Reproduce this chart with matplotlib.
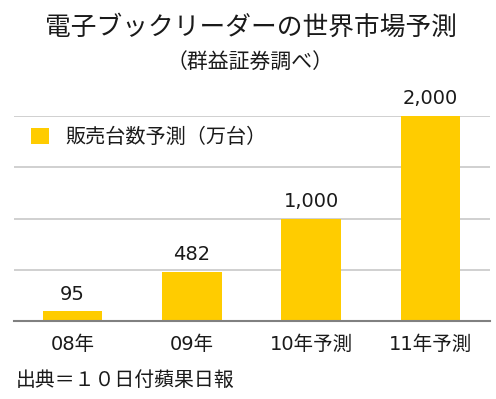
import matplotlib
matplotlib.use("Agg")
import matplotlib.pyplot as plt

plt.rcParams['font.family'] = ['DejaVu Sans', 'Noto Sans CJK JP']
cjk = ['Noto Sans CJK JP', 'DejaVu Sans']

categories = ["08年", "09年", "10年予測", "11年予測"]
values = [95, 482, 1000, 2000]
value_labels = ["95", "482", "1,000", "2,000"]
yticks = [0, 500, 1000, 1500, 2000]
title = "電子ブックリーダーの世界市場予測"
subtitle = "（群益証券調べ）"
legend_label = "販売台数予測（万台）"
source = "出典＝１０日付蘋果日報"

bar_color = "#FFCC00"
text_color = "#1a1a1a"

fig = plt.figure(figsize=(4.96, 3.99), dpi=100)
W, H = 496, 399
ax = fig.add_axes([14 / W, (H - 321) / H, (490 - 14) / W, (321 - 116) / H])

x = list(range(len(categories)))
bars = ax.bar(x, values, width=0.5, color=bar_color, zorder=3, label=legend_label)
ax.set_xlim(-0.49, 3.5)
ax.set_ylim(0, 2000)
ax.set_yticks(yticks)
ax.yaxis.grid(True, color="#c8c8c8", linewidth=1.2, zorder=0)
ax.tick_params(axis='y', left=False, labelleft=False)
ax.set_xticks(x)
ax.set_xticklabels(categories, fontsize=14, color=text_color)
ax.tick_params(axis='x', length=0, pad=10)
for s in ['top', 'right', 'left']:
    ax.spines[s].set_visible(False)
ax.spines['bottom'].set_color("#808080")
ax.spines['bottom'].set_linewidth(1.5)
ax.spines['bottom'].set_zorder(4)

for xi, v, lab in zip(x, values, value_labels):
    ax.annotate(lab, (xi, v), xytext=(0, 17), textcoords='offset pixels',
                ha='center', va='center', fontsize=14, color=text_color,
                annotation_clip=False)

# legend
leg = ax.legend(loc='upper left', bbox_to_anchor=(17 / 476, 1 - 11 / 205), frameon=False,
                prop={'family': cjk, 'size': 14.5}, handlelength=0.9, handleheight=0.9,
                handletextpad=0.8, borderpad=0, borderaxespad=0, labelcolor=text_color)

fig.text(251 / W, 1 - 28 / H, title, ha='center', va='center', fontsize=18.5,
         color=text_color, family=cjk)
fig.text(250 / W, 1 - 62 / H, subtitle, ha='center', va='center', fontsize=15,
         color=text_color, family=cjk)
fig.text(16 / W, 1 - 380 / H, source, ha='left', va='center', fontsize=14.3,
         color=text_color, family=cjk)

fig.savefig("out.png", dpi=100, facecolor="white")
